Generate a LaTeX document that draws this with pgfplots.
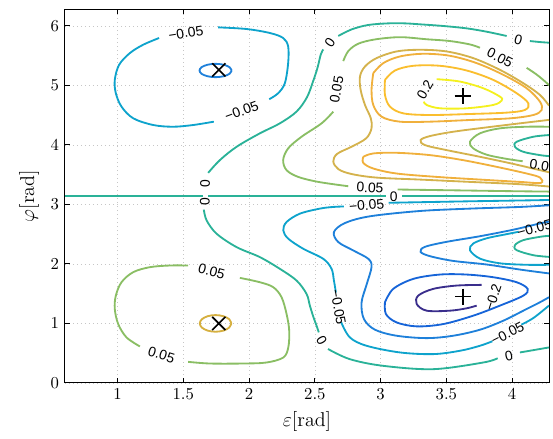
\documentclass[border=0pt]{standalone}
\usepackage{pgfplots}
\pgfplotsset{compat=1.18}
\usepackage{fontspec}
\newfontfamily\labfont{Liberation Sans}
\definecolor{cP}{RGB}{58,46,140}
\definecolor{cBb}{RGB}{22,100,216}
\definecolor{cBa}{RGB}{30,128,218}
\definecolor{cC}{RGB}{14,163,204}
\definecolor{cT}{RGB}{42,178,152}
\definecolor{cG}{RGB}{138,190,100}
\definecolor{cTan}{RGB}{212,178,76}
\definecolor{cO}{RGB}{240,176,60}
\definecolor{cOb}{RGB}{250,190,46}
\definecolor{cY}{RGB}{244,240,30}
\definecolor{cXt}{RGB}{214,176,64}
\tikzset{cl/.style={font=\labfont\fontsize{8.3}{9}\selectfont, inner sep=0pt}}
\begin{document}
\begin{tikzpicture}
\begin{axis}[
  scale only axis, width=290pt, height=224pt,
  xmin=0.6, xmax=4.28, ymin=0, ymax=6.2832,
  xtick={1,1.5,2,2.5,3,3.5,4}, ytick={0,1,2,3,4,5,6},
  grid=major, grid style={dotted, gray!45, line width=0.4pt},
  tick align=inside, major tick length=3pt,
  tick style={black, line width=0.5pt},
  axis line style={line width=0.6pt},
  xlabel={$\varepsilon$[rad]}, ylabel={$\varphi$[rad]},
  label style={font=\large},
  ticklabel style={font=\normalsize},
  contour/.style={smooth, tension=0.55, line width=1.1pt},
]
% pi line (0)
\addplot[cT, line width=1.1pt] coordinates {(0.6,3.1416) (1.646,3.1416)};
\addplot[cT, line width=1.1pt] coordinates {(1.689,3.1416) (3.04,3.1416)};
\addplot[cT, line width=1.1pt] coordinates {(3.165,3.1416) (4.28,3.1416)};
% ===== upper half =====
% -0.05 loop upper left
\addplot[cC, contour] coordinates {(1.765,5.975) (1.981,5.947) (2.158,5.880) (2.259,5.796) (2.297,5.654) (2.297,5.374) (2.272,5.037) (2.221,4.868) (2.153,4.767)};
\addplot[cC, contour] coordinates {(1.732,4.390) (1.575,4.334) (1.423,4.305) (1.271,4.334) (1.119,4.447) (1.030,4.643) (0.987,4.868) (0.979,5.093) (1.012,5.346) (1.094,5.543) (1.195,5.683) (1.316,5.796)};
% -0.1 ellipse upper X
\addplot[cBa, contour] coordinates {(1.867,5.25) (1.851,5.306) (1.806,5.347) (1.745,5.362) (1.684,5.347) (1.639,5.306) (1.623,5.25) (1.639,5.194) (1.684,5.153) (1.745,5.138) (1.806,5.153) (1.851,5.194) (1.867,5.25)};
% 0 upper main
\addplot[cT, contour] coordinates {(1.689,3.53) (1.778,3.744) (1.905,3.968) (2.082,4.194) (2.234,4.362) (2.361,4.56) (2.440,4.80) (2.487,5.071) (2.520,5.295) (2.545,5.519) (2.564,5.604)};
\addplot[cT, contour] coordinates {(2.678,5.830) (2.780,5.941) (2.906,6.015) (3.058,6.042) (3.185,6.042) (3.299,6.026) (3.476,5.998) (3.654,5.958) (3.806,5.902) (3.958,5.830)};
\addplot[cT, contour] coordinates {(4.135,5.745) (4.211,5.728) (4.28,5.717)};
% 0.05 upper C
\addplot[cG, contour] coordinates {(3.13,3.25) (3.6,3.235) (4.0,3.222) (4.28,3.215)};
\addplot[cG, contour] coordinates {(2.754,3.305) (2.526,3.378) (2.373,3.462) (2.285,3.575) (2.259,3.744) (2.297,3.941) (2.399,4.137) (2.551,4.362) (2.640,4.558)};
\addplot[cG, contour] coordinates {(2.716,5.408) (2.754,5.576) (2.830,5.700) (2.957,5.772) (3.147,5.810) (3.350,5.775) (3.527,5.745) (3.679,5.688) (3.755,5.632)};
\addplot[cG, contour] coordinates {(4.110,5.295) (4.186,5.182) (4.262,5.042) (4.28,5.00)};
% 0.1 tan C
\addplot[cTan, contour] coordinates {(4.28,4.66) (4.211,4.840) (4.085,5.036) (3.907,5.261) (3.704,5.458) (3.502,5.570) (3.299,5.598) (3.121,5.570) (2.969,5.458) (2.881,5.317) (2.843,5.149) (2.848,4.924) (2.881,4.671) (2.925,4.45) (2.931,4.28) (2.89,4.11) (2.78,3.97) (2.67,3.85) (2.64,3.72) (2.68,3.59) (2.78,3.51) (2.97,3.45) (3.299,3.417) (3.679,3.378) (4.059,3.339) (4.28,3.30)};
% outer orange loop
\addplot[cO, contour] coordinates {(2.944,5.205) (3.020,5.374) (3.147,5.486) (3.324,5.531) (3.527,5.497) (3.730,5.374) (3.933,5.177) (4.110,4.952) (4.211,4.727) (4.224,4.587) (4.161,4.502) (3.983,4.446) (3.679,4.418) (3.375,4.390) (3.147,4.390) (3.007,4.474) (2.944,4.671) (2.931,4.924) (2.944,5.205)};
% inner bright orange loop
\addplot[cOb, contour] coordinates {(3.033,5.092) (3.109,5.250) (3.248,5.329) (3.451,5.329) (3.654,5.250) (3.856,5.092) (4.034,4.868) (4.123,4.699) (4.097,4.587) (3.958,4.542) (3.679,4.519) (3.375,4.502) (3.172,4.530) (3.071,4.643) (3.033,4.840) (3.033,5.092)};
% 0.2 yellow
\addplot[cY, contour] coordinates {(3.426,5.104) (3.603,5.064) (3.780,4.952) (3.907,4.811) (3.920,4.744) (3.856,4.671) (3.654,4.615) (3.451,4.615) (3.349,4.671) (3.329,4.727)};
% lower-lobe orange loop
\addplot[cO, contour] coordinates {(2.868,3.800) (2.944,3.856) (3.121,3.867) (3.375,3.828) (3.628,3.743) (3.882,3.631) (4.110,3.519) (4.212,3.451) (4.217,3.361) (4.059,3.378) (3.755,3.417) (3.426,3.462) (3.121,3.519) (2.944,3.603) (2.868,3.698) (2.868,3.800)};
% tan tip curve
\addplot[cTan, contour] coordinates {(4.28,4.42) (4.059,4.362) (3.806,4.294) (3.552,4.221) (3.375,4.148) (3.304,4.081) (3.337,3.996) (3.502,3.912) (3.755,3.80) (4.009,3.68) (4.211,3.575) (4.28,3.54)};
% green loop
\addplot[cG, contour] coordinates {(4.28,4.305) (4.110,4.305) (3.907,4.278) (3.755,4.194) (3.679,4.052) (3.704,3.941) (3.806,3.835) (3.958,3.765) (4.080,3.725)};
% teal loop
\addplot[cT, contour] coordinates {(4.28,4.165) (4.161,4.137) (4.034,4.052) (4.021,3.968) (4.084,3.884) (4.211,3.828) (4.28,3.811)};
% ===== lower half =====
% 0 lower main
\addplot[cT, contour] coordinates {(1.656,2.912) (1.677,2.732) (1.753,2.507) (1.905,2.282) (2.082,2.114) (2.234,1.917) (2.361,1.720) (2.437,1.495) (2.462,1.299) (2.49,1.10) (2.513,0.961) (2.53,0.85)};
\addplot[cT, contour] coordinates {(2.60,0.57) (2.766,0.399) (3.020,0.287) (3.400,0.231) (3.780,0.343) (3.89,0.415)};
\addplot[cT, contour] coordinates {(4.059,0.512) (4.28,0.596)};
% 0.05 lower-left loop
\addplot[cG, contour] coordinates {(1.537,1.973) (1.398,1.973) (1.246,1.945) (1.119,1.861) (1.030,1.692) (0.987,1.467) (0.979,1.242) (1.005,0.989) (1.068,0.765) (1.170,0.613)};
\addplot[cG, contour] coordinates {(1.537,0.354) (1.702,0.326) (1.955,0.326) (2.133,0.343) (2.260,0.427) (2.298,0.596) (2.305,0.877) (2.285,1.158) (2.247,1.439) (2.184,1.608) (2.082,1.692) (1.930,1.765)};
% 0.1 ellipse lower X
\addplot[cXt, contour] coordinates {(1.865,1.0) (1.849,1.07) (1.805,1.121) (1.745,1.14) (1.685,1.121) (1.641,1.07) (1.625,1.0) (1.641,0.93) (1.685,0.879) (1.745,0.86) (1.805,0.879) (1.849,0.93) (1.865,1.0)};
% -0.05 lower C
\addplot[cC, contour] coordinates {(3.06,3.027) (3.679,3.052) (4.161,3.069) (4.28,3.075)};
\addplot[cC, contour] coordinates {(2.72,2.965) (2.640,2.957) (2.538,2.929) (2.386,2.844) (2.285,2.704) (2.260,2.563) (2.298,2.423) (2.412,2.254) (2.564,2.085) (2.627,1.917) (2.645,1.72) (2.66,1.52)};
\addplot[cC, contour] coordinates {(2.70,1.02) (2.766,0.765) (2.893,0.624) (3.147,0.512) (3.400,0.484) (3.603,0.540) (3.755,0.624) (3.85,0.70)};
\addplot[cC, contour] coordinates {(4.07,0.98) (4.161,1.09) (4.28,1.30)};
% -0.1 lower C
\addplot[cBa, contour] coordinates {(4.28,2.985) (4.059,2.957) (3.679,2.929) (3.299,2.889) (2.919,2.800) (2.729,2.687) (2.645,2.535) (2.678,2.367) (2.792,2.226) (2.906,2.086) (2.931,1.95) (2.893,1.65) (2.855,1.35) (2.873,1.074) (2.957,0.894) (3.121,0.793) (3.350,0.753) (3.552,0.793) (3.755,0.894) (3.933,1.046) (4.085,1.214) (4.211,1.355) (4.28,1.44)};
% -0.15 loop
\addplot[cBb, contour] coordinates {(3.033,1.355) (3.096,1.580) (3.248,1.748) (3.451,1.821) (3.654,1.821) (3.856,1.776) (4.034,1.692) (4.118,1.580) (4.085,1.467) (3.907,1.299) (3.704,1.130) (3.476,0.989) (3.274,0.950) (3.121,1.017) (3.040,1.158) (3.033,1.355)};
% -0.2
\addplot[cP, contour] coordinates {(3.768,1.647) (3.578,1.636) (3.400,1.580) (3.286,1.467) (3.274,1.327) (3.350,1.214) (3.527,1.214) (3.654,1.254) (3.730,1.299)};
% -0.1 tip
\addplot[cBa, contour] coordinates {(4.28,1.84) (4.059,1.905) (3.806,1.990) (3.552,2.05) (3.375,2.13) (3.304,2.202) (3.337,2.287) (3.502,2.371) (3.755,2.465) (4.009,2.575) (4.211,2.680) (4.28,2.71)};
% -0.05 tip
\addplot[cC, contour] coordinates {(4.28,1.985) (4.110,1.985) (3.907,2.01) (3.755,2.089) (3.679,2.231) (3.704,2.342) (3.806,2.43) (3.958,2.50) (4.05,2.54)};
% 0 tip
\addplot[cT, contour] coordinates {(4.28,2.118) (4.161,2.146) (4.034,2.231) (4.021,2.315) (4.084,2.399) (4.211,2.455) (4.28,2.472)};
% markers
\addplot[only marks, mark=x, mark size=5.6pt, line width=1pt, black] coordinates {(1.77,5.26) (1.77,1.0)};
\addplot[only marks, mark=+, mark size=4.8pt, line width=1pt, black] coordinates {(3.624,4.82) (3.628,1.45)};
% labels
\node[cl, rotate=9] at (axis cs:1.519,5.880) {−0.05};
\node[cl, rotate=20] at (axis cs:1.943,4.570) {−0.05};
\node[cl, rotate=90] at (axis cs:1.665,3.35) {0};
\node[cl, rotate=90] at (axis cs:1.664,3.04) {0};
\node[cl] at (axis cs:3.10,3.13) {0};
\node[cl, rotate=55] at (axis cs:2.614,5.717) {0};
\node[cl, rotate=-15] at (axis cs:4.046,5.772) {0};
\node[cl, rotate=80] at (axis cs:2.665,4.93) {0.05};
\node[cl, rotate=-27] at (axis cs:3.907,5.464) {0.05};
\node[cl, rotate=-3] at (axis cs:2.919,3.28) {0.05};
\node[cl, rotate=-8] at (axis cs:4.235,3.645) {0.05};
\node[cl, rotate=60] at (axis cs:3.337,4.924) {0.2};
\node[cl, rotate=-17] at (axis cs:1.334,0.472) {0.05};
\node[cl, rotate=-15] at (axis cs:1.715,1.877) {0.05};
\node[cl, rotate=72] at (axis cs:3.855,1.439) {−0.2};
\node[cl, rotate=5] at (axis cs:2.893,2.985) {−0.05};
\node[cl, rotate=-80] at (axis cs:2.678,1.27) {−0.05};
\node[cl, rotate=27] at (axis cs:3.965,0.83) {−0.05};
\node[cl, rotate=15] at (axis cs:4.17,2.595) {−0.05};
\node[cl, rotate=-60] at (axis cs:2.551,0.708) {0};
\node[cl, rotate=12] at (axis cs:3.975,0.455) {0};
\end{axis}
\pgfresetboundingbox
\path ([shift={(-38.9pt,-33.5pt)}]current axis.south west) rectangle ([shift={(2.4pt,5.4pt)}]current axis.north east);
\end{tikzpicture}
\end{document}
